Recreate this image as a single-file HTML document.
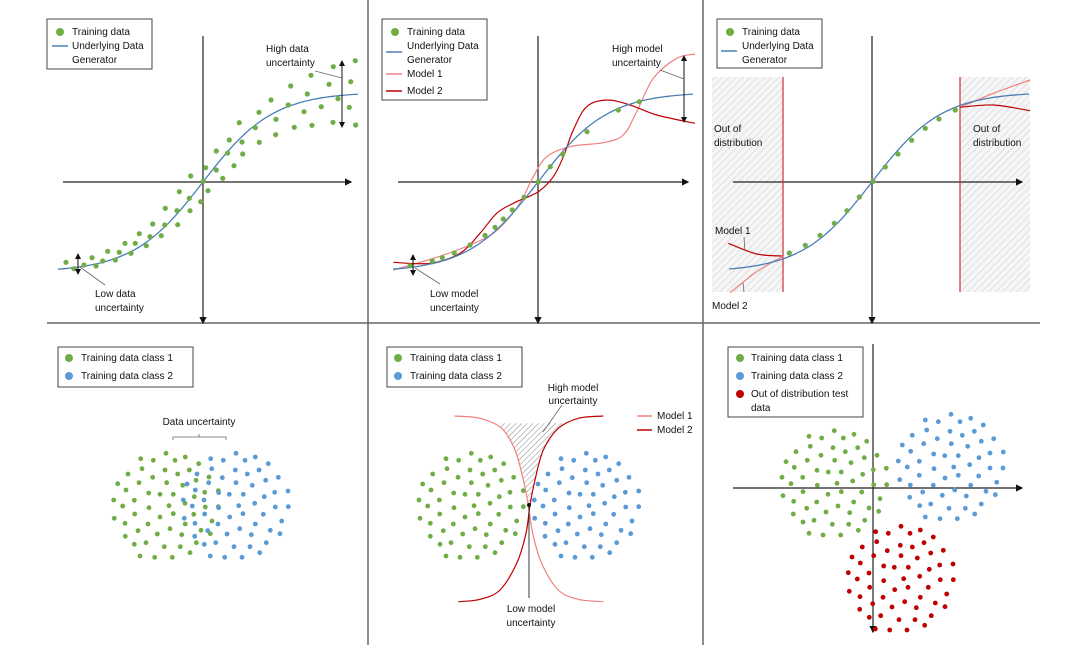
<!DOCTYPE html>
<html><head><meta charset="utf-8"><style>
html,body{margin:0;padding:0;background:#fff}
svg{display:block}
text{font-family:"Liberation Sans",sans-serif;font-size:10px;fill:#111}
</style></head><body>
<svg id="fig" width="1080" height="652" viewBox="0 0 1080 652" xmlns="http://www.w3.org/2000/svg">
<defs>
<pattern id="hatch" width="5" height="5" patternUnits="userSpaceOnUse" patternTransform="rotate(45)">
<rect width="5" height="5" fill="#f6f6f6"/><line x1="0" y1="0" x2="0" y2="5" stroke="#d2d2d2" stroke-width="1.2"/></pattern>
<pattern id="hatch2" width="4" height="4" patternUnits="userSpaceOnUse" patternTransform="rotate(45)">
<rect width="4" height="4" fill="#fff"/><line x1="0" y1="0" x2="0" y2="4" stroke="#888" stroke-width="1"/></pattern>
<marker id="ah" markerWidth="6" markerHeight="6" refX="5" refY="3" orient="auto"><path d="M0,0 L6,3 L0,6 z" fill="#111"/></marker>
</defs>
<g id="layer"></g>
</svg>
<script>
// ---------- DATA (zoom-space units: value*1/3 + panel offset) ----------
const p1Points = [[108,787],[132,806],[162,795],[186,773],[198,798],[218,783],[233,754],[256,780],[268,757],[285,730],[303,760],[316,730],[328,701],[349,737],[360,710],[368,672],[394,707],[404,675],[406,625],[441,632],[443,674],[448,575],[480,632],[478,595],[482,528],[512,605],[520,543],[527,503],[534,572],[559,510],[559,453],[578,535],[593,459],[598,420],[612,497],[628,368],[636,426],[638,462],[676,383],[687,337],[688,427],[723,300],[738,358],[737,404],[775,315],[782,258],[793,382],[822,335],[832,282],[843,226],[846,376],[874,320],[897,253],[910,200],[909,367],[924,296],[958,322],[962,245],[976,182],[977,375]];
const p2Points = [[120,797],[187,783],[217,773],[253,759],[300,735],[345,706],[375,682],[400,657],[427,630],[462,592],[505,545],[541,500],[578,463],[651,395],[745,330],[808,305]];
const p2Model1 = [[70,810],[200,772],[300,735],[370,700],[420,650],[455,600],[490,530],[530,470],[600,440],[700,428],[760,405],[800,335],[850,235],[920,175],[975,162]];
const p2Model2 = [[70,787],[180,790],[270,760],[330,700],[380,640],[430,610],[505,575],[550,530],[580,470],[610,390],[650,320],[710,300],[780,315],[860,345],[975,370]];
const p3Points = [[268,759],[316,736],[360,706],[403,670],[441,632],[478,591],[519,544],[556,501],[594,462],[635,421],[676,385],[717,357],[766,330]];
const p3RightM1 = [[780,322],[880,280],[990,240]];
const p3RightM2 = [[780,322],[880,315],[990,332]];
const p3LeftM1 = [[85,730],[170,762],[250,768]];
const p3LeftM2 = [[90,878],[170,815],[250,768]];
const bmModel1 = [[253,258],[330,265],[395,295],[435,360],[460,450],[475,525],[488,610],[515,700],[565,780],[625,808],[700,815]];
const bmModel2 = [[700,258],[625,265],[565,295],[520,360],[495,450],[480,525],[468,610],[440,700],[390,780],[330,808],[265,815]];
const blGreen = [[302,386],[340,391],[378,370],[405,391],[436,381],[476,401],[306,416],[375,420],[413,432],[448,420],[264,432],[338,442],[468,451],[507,441],[233,461],[297,458],[380,458],[428,466],[258,480],[326,489],[360,493],[400,493],[463,500],[494,487],[535,482],[221,510],[283,511],[248,528],[327,533],[387,527],[435,520],[496,531],[535,530],[223,565],[284,552],[360,561],[400,551],[461,553],[255,580],[324,582],[390,596],[436,582],[516,573],[483,601],[511,611],[256,619],[294,602],[352,612],[425,614],[469,638],[283,643],[318,638],[373,650],[421,650],[450,668],[300,678],[344,682],[397,682]];
const blBlue = [[512,386],[550,391],[588,370],[615,391],[646,381],[685,401],[515,416],[471,432],[586,420],[622,432],[657,420],[547,443],[506,458],[441,462],[588,458],[637,466],[677,451],[715,442],[466,480],[536,488],[568,493],[610,493],[673,500],[704,487],[744,483],[430,510],[492,510],[457,528],[536,533],[596,527],[644,520],[706,531],[745,530],[433,565],[494,552],[569,561],[609,551],[670,553],[725,573],[465,580],[534,582],[599,596],[646,582],[691,601],[720,611],[464,619],[503,602],[561,612],[634,614],[493,643],[527,638],[582,650],[630,650],[679,638],[511,678],[554,682],[606,682],[659,668]];
const bmGreen = [[228,386],[266,391],[304,370],[331,391],[362,381],[401,401],[231,416],[300,420],[338,432],[374,420],[188,432],[264,442],[431,442],[158,462],[222,458],[304,458],[354,466],[394,451],[183,480],[251,489],[285,493],[325,493],[388,500],[420,487],[460,482],[147,510],[208,510],[173,528],[252,533],[312,527],[360,520],[421,531],[460,530],[150,565],[209,552],[285,561],[325,551],[386,553],[440,573],[181,580],[250,582],[315,596],[361,582],[407,601],[436,611],[181,619],[220,602],[278,612],[349,614],[210,643],[243,638],[298,650],[346,650],[395,638],[228,678],[270,682],[322,682],[375,668]];
const bmBlue = [[573,386],[611,391],[649,370],[676,391],[707,381],[746,401],[576,416],[534,432],[646,420],[684,432],[718,420],[607,443],[504,462],[568,458],[650,458],[698,466],[740,451],[777,442],[527,480],[597,489],[630,493],[670,493],[733,500],[766,487],[806,483],[493,510],[553,510],[519,528],[598,533],[657,527],[704,520],[767,531],[806,530],[494,565],[555,552],[630,561],[670,551],[731,553],[786,573],[526,580],[595,582],[660,596],[707,582],[753,601],[782,611],[525,619],[564,602],[622,612],[694,614],[555,643],[588,638],[643,650],[691,650],[740,638],[573,678],[615,682],[667,682],[719,668]];
const brGreen = [[312,319],[350,324],[388,302],[415,324],[447,313],[485,334],[316,349],[384,353],[421,365],[458,353],[273,365],[348,376],[516,376],[243,395],[307,391],[389,391],[438,398],[478,383],[268,412],[336,421],[370,426],[409,426],[473,433],[505,419],[544,415],[231,442],[293,442],[258,461],[337,466],[396,460],[443,453],[506,464],[545,464],[234,497],[294,485],[369,493],[409,485],[470,486],[525,506],[266,514],[335,516],[399,528],[446,516],[492,534],[521,544],[265,552],[305,535],[363,546],[434,548],[294,576],[327,571],[382,583],[431,583],[479,571],[312,610],[354,615],[407,615],[460,601]];
const brBlue = [[661,270],[700,275],[738,253],[765,275],[797,265],[835,285],[665,300],[622,316],[735,304],[772,316],[808,304],[697,326],[592,345],[656,341],[739,341],[788,349],[829,334],[866,326],[617,364],[686,372],[719,377],[760,377],[822,383],[855,369],[895,366],[580,393],[643,394],[607,411],[687,416],[746,411],[794,404],[855,414],[894,414],[584,449],[643,436],[720,444],[760,436],[821,438],[875,457],[616,465],[685,466],[749,480],[797,466],[843,484],[871,494],[614,502],[653,486],[712,496],[784,498],[644,527],[677,522],[732,535],[781,535],[829,522],[661,561],[705,566],[757,566],[809,552]];
const brRed = [[512,605],[550,610],[588,589],[615,610],[646,600],[685,621],[515,635],[472,651],[547,662],[586,646],[622,651],[657,638],[506,677],[441,681],[588,677],[637,684],[677,669],[715,661],[466,699],[536,708],[568,712],[610,712],[673,718],[704,705],[744,702],[430,728],[492,729],[457,747],[536,752],[596,746],[644,739],[706,749],[745,749],[433,784],[494,772],[569,779],[609,772],[670,772],[725,792],[465,800],[534,802],[599,815],[646,802],[691,819],[720,830],[464,838],[503,821],[561,831],[634,833],[493,862],[527,857],[582,869],[630,869],[679,857],[511,897],[554,900],[606,900],[659,886]];

// ---------- helpers ----------
const NS='http://www.w3.org/2000/svg';
const layer=document.getElementById('layer');
const GREEN='#70ad47', BLUE='#5b9bd5', RED='#c00000', PINK='#f08080', DRED='#c00000', LBLUE='#4a7fb5';
function mk(tag,attrs,parent){const e=document.createElementNS(NS,tag);for(const k in attrs)e.setAttribute(k,attrs[k]);(parent||layer).appendChild(e);return e;}
function scale(ox,oy){return p=>[ox+p[0]/3, oy+p[1]/3];}
function smooth(pts){let d='M'+pts[0][0]+','+pts[0][1];for(let i=0;i<pts.length-1;i++){const p0=pts[i-1]||pts[i],p1=pts[i],p2=pts[i+1],p3=pts[i+2]||p2;const c1=[p1[0]+(p2[0]-p0[0])/6,p1[1]+(p2[1]-p0[1])/6],c2=[p2[0]-(p3[0]-p1[0])/6,p2[1]-(p3[1]-p1[1])/6];d+=' C'+c1[0].toFixed(1)+','+c1[1].toFixed(1)+' '+c2[0].toFixed(1)+','+c2[1].toFixed(1)+' '+p2[0].toFixed(1)+','+p2[1].toFixed(1);}return d;}
function curve(pts,color,w,name){const e=mk('path',{d:smooth(pts),fill:'none',stroke:color,'stroke-width':w});

return e;}
function dots(arr,sc,color,r,name){arr.forEach(p=>{const q=sc(p);const c=mk('circle',{cx:q[0].toFixed(1),cy:q[1].toFixed(1),r:r,fill:color});

});}
function txt(x,y,s,name,anchor){const t=mk('text',{x:x,y:y});if(anchor)t.setAttribute('text-anchor',anchor);t.textContent=s;

return t;}
function line(x1,y1,x2,y2,color,w,name,marker){const l=mk('line',{x1,y1,x2,y2,stroke:color,'stroke-width':w});if(marker){l.setAttribute('marker-end','url(#ah)');}

return l;}
function axes(cx,cy,x0,x1,y0,y1,name){line(x0,cy,x1,cy,'#222',1.2,name+'-x-axis',true);line(cx,y1,cx,y0,'#222',1.2,name+'-y-axis',true);}
function dblArrow(x,y0,y1,name){line(x,(y0+y1)/2,x,y0,'#111',1,name,true);line(x,(y0+y1)/2,x,y1,'#111',1,name,true);}
function legendBox(x,y,w,h,name){const r=mk('rect',{x,y,width:w,height:h,fill:'#fff',stroke:'#444','stroke-width':1});

}
function tanhCurve(cx,cy,xa,xb){const pts=[];for(let x=xa;x<=xb;x+=6)pts.push([x,cy-90*Math.tanh((x-cx)/70)]);return pts;}

// ---------- dividers ----------
line(368,0,368,645,'#666',1.5,'divider-left');
line(703,0,703,645,'#666',1.5,'divider-right');
line(47,323,1040,323,'#666',1.5,'divider-horizontal');

// ---------- Panel 1 ----------
const s1=scale(30,0);
axes(203,182,63,351,323,36,'p1');
curve(tanhCurve(203,182,58,361),LBLUE,1.3,'p1-generator-curve');
dots(p1Points,s1,GREEN,2.6,'p1-training-point');
dblArrow(342,61,127,'p1-high-uncertainty-arrow');
dblArrow(78,254,274,'p1-low-uncertainty-arrow');
line(315,71,342,78,'#666',0.8,'p1-high-pointer');
line(80,267,105,285,'#666',0.8,'p1-low-pointer');
txt(266,52,'High data','p1-high-label');txt(266,66,'uncertainty','p1-high-label');
txt(95,297,'Low data','p1-low-label');txt(95,311,'uncertainty','p1-low-label');
legendBox(47,19,105,50,'p1-legend');
mk('circle',{cx:60,cy:32,r:4,fill:GREEN});txt(72,35,'Training data','p1-legend-training');
line(52,46,68,46,LBLUE,1.5,'p1-legend-line');txt(72,49,'Underlying Data','p1-legend-generator');txt(72,63,'Generator','p1-legend-generator');

// ---------- Panel 2 ----------
const s2=scale(370,0);
axes(538,182,398,688,323,36,'p2');
curve(p2Model1.map(s2),PINK,1.2,'p2-model1-curve');
curve(p2Model2.map(s2),DRED,1.2,'p2-model2-curve');
curve(tanhCurve(538,182,393,696),LBLUE,1.3,'p2-generator-curve');
dots(p2Points,s2,GREEN,2.6,'p2-training-point');
dblArrow(684,56,122,'p2-high-uncertainty-arrow');
dblArrow(413,255,275,'p2-low-uncertainty-arrow');
line(660,70,684,79,'#666',0.8,'p2-high-pointer');
line(415,268,440,284,'#666',0.8,'p2-low-pointer');
txt(612,52,'High model','p2-high-label');txt(612,66,'uncertainty','p2-high-label');
txt(430,297,'Low model','p2-low-label');txt(430,311,'uncertainty','p2-low-label');
legendBox(382,19,105,81,'p2-legend');
mk('circle',{cx:395,cy:32,r:4,fill:GREEN});txt(407,35,'Training data','p2-legend-training');
line(386,52,402,52,LBLUE,1.5,'p2-legend-line');txt(407,49,'Underlying Data','p2-legend-generator');txt(407,63,'Generator','p2-legend-generator');
line(386,74,402,74,PINK,1.5,'p2-legend-model1');txt(407,77,'Model 1','p2-legend-model1-text');
line(386,91,402,91,DRED,1.5,'p2-legend-model2');txt(407,94,'Model 2','p2-legend-model2-text');

// ---------- Panel 3 ----------
const s3=scale(700,0);
mk('rect',{x:712,y:77,width:71,height:215,fill:'url(#hatch)'});
mk('rect',{x:960,y:77,width:70,height:215,fill:'url(#hatch)'});
axes(872,182,733,1022,323,36,'p3');
line(783,77,783,292,'#d03030',1.2,'p3-boundary-left');
line(960,77,960,292,'#d03030',1.2,'p3-boundary-right');
curve(p3RightM1.map(s3),PINK,1.2,'p3-model1-right');
curve(p3RightM2.map(s3),DRED,1.2,'p3-model2-right');
curve(p3LeftM1.map(s3),DRED,1.2,'p3-model1-left');
curve(p3LeftM2.map(s3),PINK,1.2,'p3-model2-left');
curve(tanhCurve(872,182,729,1031),LBLUE,1.3,'p3-generator-curve');
dots(p3Points,s3,GREEN,2.6,'p3-training-point');
txt(714,132,'Out of','p3-ood-left');txt(714,146,'distribution','p3-ood-left');
txt(973,132,'Out of','p3-ood-right');txt(973,146,'distribution','p3-ood-right');
txt(715,234,'Model 1','p3-model1-label');line(744,237,745,251,'#666',0.8,'p3-model1-pointer');
txt(712,309,'Model 2','p3-model2-label');line(744,292,743,283,'#666',0.8,'p3-model2-pointer');
legendBox(717,19,105,49,'p3-legend');
mk('circle',{cx:730,cy:32,r:4,fill:GREEN});txt(742,35,'Training data','p3-legend-training');
line(721,51,737,51,LBLUE,1.5,'p3-legend-line');txt(742,49,'Underlying Data','p3-legend-generator');txt(742,63,'Generator','p3-legend-generator');

// ---------- Panel 4 ----------
const s4=scale(40,330);
dots(blGreen,s4,GREEN,2.4,'p4-class1-point');
dots(blBlue,s4,BLUE,2.4,'p4-class2-point');
mk('path',{d:'M173,440 L173,437 L226,437 L226,440 M199,437 L199,434',fill:'none',stroke:'#666','stroke-width':0.8});
txt(199,425,'Data uncertainty','p4-data-uncertainty-label','middle');
legendBox(58,347,135,40,'p4-legend');
mk('circle',{cx:69,cy:358,r:4,fill:GREEN});txt(81,361,'Training data class 1','p4-legend-class1');
mk('circle',{cx:69,cy:376,r:4,fill:BLUE});txt(81,379,'Training data class 2','p4-legend-class2');

// ---------- Panel 5 ----------
const s5=scale(370,330);
const hatchPts=[[385,280]].concat(bmModel1.slice(2,6)).concat(bmModel2.slice(2,6).reverse()).concat([[580,280]]).map(s5);
const hp=mk('path',{d:'M'+hatchPts.map(p=>p[0].toFixed(1)+','+p[1].toFixed(1)).join(' L')+' Z',fill:'url(#hatch2)',stroke:'none'});


dots(bmGreen,s5,GREEN,2.4,'p5-class1-point');
dots(bmBlue,s5,BLUE,2.4,'p5-class2-point');
curve(bmModel1.map(s5),PINK,1.2,'p5-model1-curve');
curve(bmModel2.map(s5),DRED,1.2,'p5-model2-curve');
line(529,505,529,598,'#222',0.9,'p5-low-pointer');
mk('circle',{cx:529,cy:505,r:2,fill:'#111'});
line(562,405,543,432,'#666',0.8,'p5-high-pointer');
txt(573,391,'High model','p5-high-label','middle');txt(573,404,'uncertainty','p5-high-label','middle');
txt(531,612,'Low model','p5-low-label','middle');txt(531,626,'uncertainty','p5-low-label','middle');
line(637,416,652,416,PINK,1.5,'p5-legend-model1');txt(657,419,'Model 1','p5-legend-model1-text');
line(637,430,652,430,DRED,1.5,'p5-legend-model2');txt(657,433,'Model 2','p5-legend-model2-text');
legendBox(387,347,135,40,'p5-legend');
mk('circle',{cx:398,cy:358,r:4,fill:GREEN});txt(410,361,'Training data class 1','p5-legend-class1');
mk('circle',{cx:398,cy:376,r:4,fill:BLUE});txt(410,379,'Training data class 2','p5-legend-class2');

// ---------- Panel 6 ----------
const s6=scale(705,330);
axes(873,488,733,1022,632,344,'p6');
dots(brGreen,s6,GREEN,2.4,'p6-class1-point');
dots(brBlue,s6,BLUE,2.4,'p6-class2-point');
dots(brRed,s6,RED,2.4,'p6-ood-point');
legendBox(728,347,135,70,'p6-legend');
mk('circle',{cx:740,cy:358,r:4,fill:GREEN});txt(751,361,'Training data class 1','p6-legend-class1');
mk('circle',{cx:740,cy:376,r:4,fill:BLUE});txt(751,379,'Training data class 2','p6-legend-class2');
mk('circle',{cx:740,cy:394,r:4,fill:RED});txt(751,397,'Out of distribution test','p6-legend-ood');txt(751,411,'data','p6-legend-ood');
</script>
</body></html>
